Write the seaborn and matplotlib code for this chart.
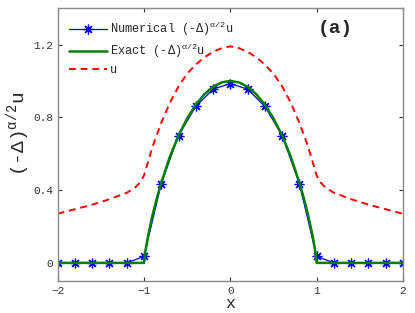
import matplotlib
matplotlib.use("Agg")
import matplotlib.pyplot as plt
import seaborn as sns
import pandas as pd
import numpy as np

# numerical points, step 0.2
x_num = [-2.0, -1.8, -1.6, -1.4, -1.2, -1.0, -0.8, -0.6, -0.4, -0.2, 0.0,
         0.2, 0.4, 0.6, 0.8, 1.0, 1.2, 1.4, 1.6, 1.8, 2.0]
y_num = [0, 0, 0, 0, 0, 0.036, 0.435, 0.70, 0.86, 0.955, 0.985,
         0.955, 0.86, 0.70, 0.435, 0.036, 0, 0, 0, 0, 0]

# exact curve
x_exact = [-2.0, -1.0, -0.98, -0.95, -0.9, -0.85, -0.8, -0.7, -0.6, -0.5, -0.4, -0.3, -0.2, -0.1, 0.0,
           0.1, 0.2, 0.3, 0.4, 0.5, 0.6, 0.7, 0.8, 0.85, 0.9, 0.95, 0.98, 1.0, 2.0]
y_exact = [0, 0, 0.076, 0.155, 0.265, 0.358, 0.44, 0.584, 0.70, 0.794, 0.87, 0.927, 0.968, 0.992, 1.0,
           0.992, 0.968, 0.927, 0.87, 0.794, 0.70, 0.584, 0.44, 0.358, 0.265, 0.155, 0.076, 0, 0]

# u
x_u = [-2.0, -1.8, -1.6, -1.4, -1.2, -1.1, -1.05, -1.0, -0.95, -0.9, -0.8, -0.7, -0.6, -0.5, -0.4, -0.3, -0.2, -0.1, 0.0,
       0.1, 0.2, 0.3, 0.4, 0.5, 0.6, 0.7, 0.8, 0.9, 0.95, 1.0, 1.05, 1.1, 1.2, 1.4, 1.6, 1.8, 2.0]
y_u = [0.27, 0.295, 0.32, 0.35, 0.385, 0.415, 0.44, 0.48, 0.56, 0.64, 0.77, 0.88, 0.97, 1.04, 1.09, 1.13, 1.16, 1.18, 1.19,
       1.18, 1.16, 1.13, 1.09, 1.04, 0.97, 0.88, 0.77, 0.64, 0.56, 0.48, 0.44, 0.415, 0.385, 0.35, 0.32, 0.295, 0.27]

sns.set_style("ticks")
mono = "Liberation Mono"
plt.rcParams["font.family"] = [mono, "DejaVu Sans"]
plt.rcParams["mathtext.fontset"] = "custom"
plt.rcParams["mathtext.rm"] = mono
plt.rcParams["mathtext.it"] = mono

fig = plt.figure(figsize=(4.15, 3.13), dpi=100)
ax = fig.add_axes([0.139, 0.102, 0.832, 0.872])

asterisk = (8, 2, 0)
sns.lineplot(x=x_num, y=y_num, ax=ax, color="blue", lw=0.9, marker=asterisk, markersize=7,
             markeredgecolor="blue", markeredgewidth=0.9, label=r"Numerical (-Δ)$^{\mathrm{α/2}}$u",
             sort=False, estimator=None)
sns.lineplot(x=x_exact, y=y_exact, ax=ax, color=(0, 0.5, 0), lw=1.8,
             label=r"Exact (-Δ)$^{\mathrm{α/2}}$u", sort=False, estimator=None)
sns.lineplot(x=x_u, y=y_u, ax=ax, color="red", lw=1.4, linestyle=(0, (3.5, 2.5)),
             label="u", sort=False, estimator=None)

ax.set_xlim(-2, 2)
ax.set_ylim(-0.1, 1.4)
ax.set_xticks([-2, -1, 0, 1, 2])
ax.set_yticks([0, 0.4, 0.8, 1.2])
ax.set_yticklabels(["0", "0.4", "0.8", "1.2"])
ax.tick_params(direction="in", top=True, right=True, labelsize=8, length=3,
               colors="#333333", labelcolor="#333333")
for s in ax.spines.values():
    s.set_color("#888888")
    s.set_linewidth(1.0)

ax.set_xlabel("x", fontsize=12, labelpad=0)
ax.set_ylabel(r"(-Δ)$^{\mathrm{α/2}}$u", fontsize=14)
ax.yaxis.set_label_coords(-0.074, 0.54)
ax.text(0.855, 0.925, "(a)", transform=ax.transAxes, fontsize=14, fontweight="bold",
        ha="right", va="center")

leg = ax.legend(loc="upper left", frameon=False, fontsize=8.6, handlelength=3.2,
                handletextpad=0.2, borderaxespad=0.55, borderpad=0.4, labelspacing=0.35)

fig.savefig("out.png", dpi=100)
